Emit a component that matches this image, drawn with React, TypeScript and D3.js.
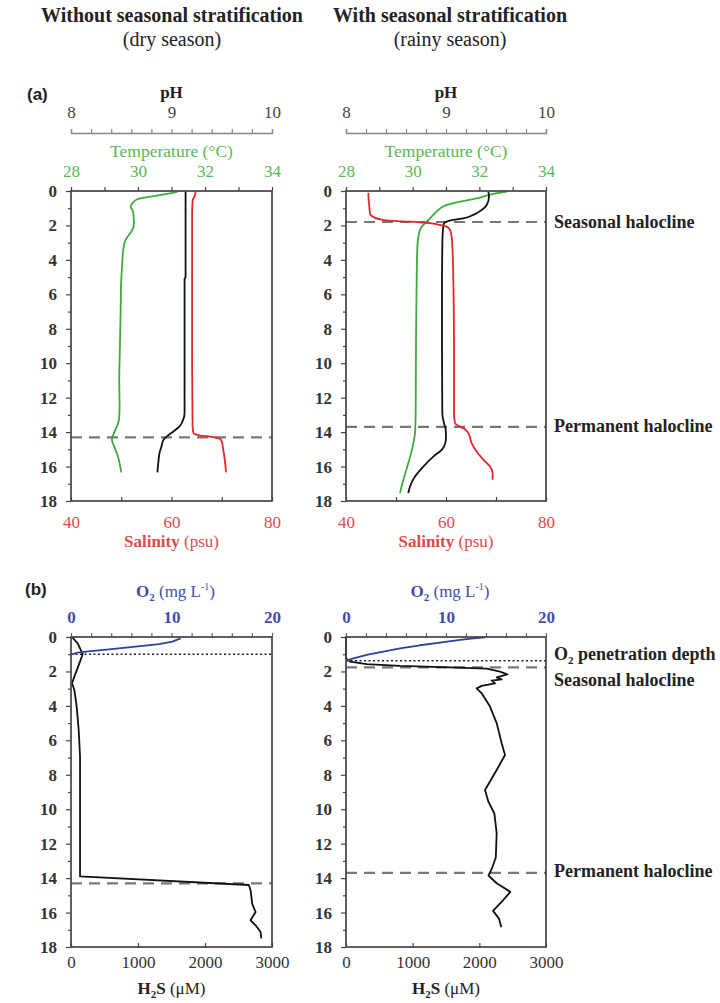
import React, { useEffect, useRef } from 'react';
import * as d3 from 'd3';

// profiles as [depth (m), value]
const dryTemp = [[0.05, 31.17], [0.17, 30.87], [0.33, 30.38], [0.48, 29.98], [0.72, 29.83], [0.91, 29.78], [1.1, 29.83], [1.3, 29.86], [1.88, 29.88], [2.26, 29.83], [2.55, 29.73], [2.84, 29.63], [3.42, 29.56], [4.2, 29.53], [5.16, 29.5], [7.1, 29.48], [9.03, 29.46], [10.97, 29.44], [12.5, 29.45], [13.3, 29.43], [13.8, 29.34], [14.26, 29.24], [14.45, 29.22], [14.84, 29.29], [15.4, 29.4], [16.0, 29.47], [16.34, 29.5]];
const drySal = [[0.05, 64.8], [0.3, 64.6], [0.55, 64.2], [1.5, 64.1], [5, 64.1], [10, 64.1], [13.7, 64.2], [14.06, 64.4], [14.2, 65.7], [14.26, 67.7], [14.33, 69.0], [14.4, 69.7], [14.55, 70.0], [14.84, 70.2], [15.4, 70.5], [16.0, 70.75], [16.34, 70.85]];
const dryPH = [[0.02, 9.14], [5.0, 9.14], [5.1, 9.13], [12.9, 9.13], [13.3, 9.115], [13.67, 9.08], [13.96, 9.02], [14.22, 8.96], [14.45, 8.92], [14.84, 8.9], [15.23, 8.88], [15.7, 8.87], [16.34, 8.86]];

const wetTemp = [[0.04, 32.82], [0.17, 32.42], [0.43, 31.92], [0.62, 31.42], [0.81, 31.02], [1.1, 30.77], [1.49, 30.57], [1.78, 30.42], [2.07, 30.27], [2.46, 30.19], [3.23, 30.14], [5.16, 30.12], [9.03, 30.1], [12.9, 30.09], [14.06, 30.07], [14.84, 30.0], [15.8, 29.87], [16.77, 29.72], [17.54, 29.62]];
const wetSal = [[0.1, 44.47], [0.52, 44.53], [0.91, 44.67], [1.3, 44.8], [1.45, 45.13], [1.64, 46.8], [1.74, 49.47], [1.78, 52.8], [1.84, 55.47], [1.88, 57.13], [1.97, 58.8], [2.07, 60.13], [2.26, 60.8], [2.65, 61.13], [3.23, 61.27], [5.16, 61.47], [9.03, 61.6], [12.9, 61.6], [13.48, 61.8], [13.68, 62.8], [13.83, 63.8], [14.06, 64.47], [14.64, 65.13], [15.13, 66.13], [15.6, 67.47], [16.0, 68.8], [16.38, 69.33], [16.77, 69.33]];
const wetPH = [[0.04, 9.423], [0.33, 9.43], [0.81, 9.407], [1.1, 9.357], [1.39, 9.273], [1.59, 9.173], [1.68, 9.073], [1.78, 9.007], [1.88, 8.98], [2.07, 8.973], [2.46, 8.967], [3.23, 8.963], [5.16, 8.96], [9.03, 8.96], [12.9, 8.963], [13.48, 8.98], [13.87, 8.997], [14.26, 9.0], [14.64, 8.993], [15.03, 8.957], [15.42, 8.873], [16.0, 8.773], [16.58, 8.69], [17.16, 8.64], [17.54, 8.623]];

const dryO2 = [[0.08, 10.9], [0.27, 10.08], [0.41, 8.76], [0.52, 7.1], [0.62, 5.45], [0.72, 3.8], [0.79, 2.48], [0.85, 1.49], [0.91, 0.65], [0.99, 0.16]];
const dryH2S = [[0, 15], [0.37, 100], [0.99, 175], [1.53, 125], [2.3, 50], [2.69, 15], [3.08, 50], [4.04, 85], [5.4, 115], [6.94, 135], [9.5, 135], [13.9, 135], [14.4, 2655], [14.7, 2680], [15.5, 2705], [15.97, 2755], [16.45, 2680], [16.74, 2755], [17.13, 2830], [17.5, 2840]];
const wetO2 = [[0.02, 13.9], [0.08, 12.73], [0.17, 11.4], [0.33, 9.4], [0.48, 7.4], [0.66, 5.4], [0.85, 3.73], [1.04, 2.07], [1.24, 0.73], [1.37, 0.07]];
const wetH2S = [[0, 0], [1.24, 0], [1.43, 60], [1.57, 310], [1.68, 810], [1.76, 1560], [1.84, 2110], [2.01, 2310], [2.17, 2420], [2.34, 2260], [2.46, 2335], [2.53, 2185], [2.69, 2235], [2.84, 2035], [2.98, 1960], [3.27, 2035], [4.04, 2160], [5.0, 2260], [6.17, 2335], [6.85, 2385], [7.72, 2260], [8.88, 2085], [9.55, 2135], [10.25, 2226], [11.4, 2260], [12.8, 2247], [13.4, 2192], [13.85, 2137], [14.3, 2260], [14.8, 2466], [15.4, 2329], [15.9, 2206], [16.35, 2295], [16.85, 2329]];

const depthTicks = d3.range(0, 19);
const phTicks = d3.range(0, 11).map(i => 8 + i * 0.2);
const tempTicks = d3.range(28, 35);
const salTicks = [40, 50, 60, 70, 80];
const o2Ticks = d3.range(0, 21, 2);
const h2sTicks = [0, 1000, 2000, 3000];

// haloclines etc. (depth, m)
const dryHalocline = 14.3;
const wetSeasonal = 1.8;
const wetPermanent = 13.7;
const dryO2Depth = 1.0;
const wetO2Depth = 1.38;
const wetSeasonalB = 1.76;

const GREEN = '#3faa3f';
const GREEN_TXT = '#56b856';
const RED = '#e0282c';
const RED_TXT = '#e04a4a';
const BLUE = '#2e3f9e';
const BLUE_TXT = '#3f4fa6';
const SERIF = '"Liberation Serif", "Times New Roman", serif';
const SANS = '"Liberation Sans", Arial, sans-serif';

const isInt = (d: number) => Math.abs(d - Math.round(d)) < 1e-6;

const App = () => {
  const ref = useRef<SVGSVGElement>(null);

  useEffect(() => {
    const svg = d3.select(ref.current);
    svg.selectAll('*').remove();

    const text = (x, y, s, size, opts: any = {}) =>
      svg.append('text')
        .attr('x', x).attr('y', y)
        .attr('font-family', opts.family || SERIF)
        .attr('font-size', size)
        .attr('font-weight', opts.weight || 'normal')
        .attr('fill', opts.fill || '#222')
        .attr('text-anchor', opts.anchor || 'start')
        .text(s);

    const styleAxis = (g, color, size, weight, lineColor) => {
      g.attr('font-family', SERIF);
      g.selectAll('.tick line').attr('stroke', lineColor).attr('stroke-width', 1.2);
      g.select('.domain').attr('stroke', lineColor).attr('stroke-width', 1.6);
      g.selectAll('.tick text')
        .attr('font-family', SERIF).attr('font-size', size)
        .attr('font-weight', weight).attr('fill', color);
    };

    const depthAxis = (y, x0) => {
      const g = svg.append('g').attr('transform', `translate(${x0},0)`)
        .call(d3.axisLeft(y).tickValues(depthTicks)
          .tickFormat(d => (+d % 2 === 0 ? String(d) : ''))
          .tickSize(4).tickPadding(10));
      styleAxis(g, '#333', 17, 'bold', '#444');
      g.select('.domain').remove();
      g.selectAll('.tick line').attr('x2', d => (+d % 2 === 0 ? -5 : -3));
    };

    const box = (x0, x1, y) => {
      svg.append('rect')
        .attr('x', x0).attr('y', y(0))
        .attr('width', x1 - x0).attr('height', y(18) - y(0))
        .attr('fill', 'none').attr('stroke', '#444').attr('stroke-width', 1.7);
    };

    const hline = (x0, x1, yy, dotted = false) => {
      svg.append('line')
        .attr('x1', x0).attr('x2', x1).attr('y1', yy).attr('y2', yy)
        .attr('stroke', dotted ? '#222' : '#777')
        .attr('stroke-width', dotted ? 1.5 : 2.2)
        .attr('stroke-dasharray', dotted ? '2,2.5' : '11,7');
    };

    const curve = (series, xs, y, color, smooth = true) => {
      const line = d3.line<number[]>()
        .x(d => xs(d[1])).y(d => y(d[0]))
        .curve(smooth ? d3.curveMonotoneY : d3.curveLinear);
      svg.append('path').attr('d', line(series))
        .attr('fill', 'none').attr('stroke', color)
        .attr('stroke-width', 1.8).attr('stroke-linejoin', 'round');
    };

    const panelA = (x0, x1, temp, sal, ph, halos) => {
      const cx = (x0 + x1) / 2;
      const y = d3.scaleLinear().domain([0, 18]).range([191, 501]);
      const xT = d3.scaleLinear().domain([28, 34]).range([x0, x1]);
      const xS = d3.scaleLinear().domain([40, 80]).range([x0, x1]);
      const xP = d3.scaleLinear().domain([8, 10]).range([x0, x1]);

      // pH axis
      const gp = svg.append('g').attr('transform', 'translate(0,133)')
        .call(d3.axisTop(xP).tickValues(phTicks)
          .tickFormat(d => (isInt(+d) ? String(Math.round(+d)) : ''))
          .tickSizeInner(4).tickSizeOuter(4).tickPadding(11));
      styleAxis(gp, '#444', 17, 'normal', '#888');
      gp.select('.domain').attr('stroke-width', 1.4);
      text(cx, 98, 'pH', 17, { weight: 'bold', anchor: 'middle' });

      // temperature axis on top of box
      const gt = svg.append('g').attr('transform', 'translate(0,191)')
        .call(d3.axisTop(xT).tickValues(tempTicks)
          .tickFormat(d => (+d % 2 === 0 ? String(d) : ''))
          .tickSizeInner(4).tickSizeOuter(0).tickPadding(10));
      styleAxis(gt, GREEN_TXT, 17, 'normal', '#444');
      gt.select('.domain').remove();
      text(cx, 157, 'Temperature (°C)', 17.5, { fill: GREEN_TXT, anchor: 'middle' });

      // salinity axis at bottom
      const gs = svg.append('g').attr('transform', 'translate(0,501)')
        .call(d3.axisBottom(xS).tickValues(salTicks)
          .tickFormat(d => (+d % 20 === 0 ? String(d) : ''))
          .tickSizeInner(-4).tickSizeOuter(0).tickPadding(15));
      styleAxis(gs, RED_TXT, 17, 'normal', '#444');
      gs.select('.domain').remove();
      const st = text(cx, 547, '', 17, { fill: RED_TXT, anchor: 'middle' });
      st.append('tspan').attr('font-weight', 'bold').text('Salinity');
      st.append('tspan').text(' (psu)');

      depthAxis(y, x0);
      halos.forEach(h => hline(x0, x1, y(h)));
      curve(temp, xT, y, GREEN);
      curve(ph, xP, y, '#111');
      curve(sal, xS, y, RED);
      box(x0, x1, y);
      return y;
    };

    const panelB = (x0, x1, o2, h2s, dotted, halos) => {
      const cx = (x0 + x1) / 2;
      const y = d3.scaleLinear().domain([0, 18]).range([637, 947]);
      const xO = d3.scaleLinear().domain([0, 20]).range([x0, x1]);
      const xH = d3.scaleLinear().domain([0, 3000]).range([x0, x1]);

      const go = svg.append('g').attr('transform', 'translate(0,637)')
        .call(d3.axisTop(xO).tickValues(o2Ticks)
          .tickFormat(d => (+d % 10 === 0 ? String(d) : ''))
          .tickSizeInner(4).tickSizeOuter(0).tickPadding(10));
      styleAxis(go, BLUE_TXT, 17, 'bold', '#666');
      go.select('.domain').remove();
      const ot = text(cx + 4, 597, '', 17, { fill: BLUE_TXT, anchor: 'middle' });
      ot.append('tspan').attr('font-weight', 'bold').text('O');
      ot.append('tspan').attr('font-weight', 'bold').attr('font-size', 11).attr('dy', 4).text('2');
      ot.append('tspan').attr('dy', -4).text(' (mg L');
      ot.append('tspan').attr('font-size', 10).attr('dy', -7).text('-1');
      ot.append('tspan').attr('dy', 7).text(')');

      const gh = svg.append('g').attr('transform', 'translate(0,947)')
        .call(d3.axisBottom(xH).tickValues(h2sTicks)
          .tickFormat(d3.format('d'))
          .tickSizeInner(-4).tickSizeOuter(0).tickPadding(9));
      styleAxis(gh, '#333', 17, 'normal', '#444');
      gh.select('.domain').remove();
      const ht = text(cx, 994, '', 17, { anchor: 'middle' });
      ht.append('tspan').attr('font-weight', 'bold').text('H');
      ht.append('tspan').attr('font-weight', 'bold').attr('font-size', 11).attr('dy', 4).text('2');
      ht.append('tspan').attr('font-weight', 'bold').attr('dy', -4).text('S');
      ht.append('tspan').text(' (μM)');

      depthAxis(y, x0);
      hline(x0, x1, y(dotted), true);
      halos.forEach(h => hline(x0, x1, y(h)));
      curve(h2s, xH, y, '#111', false);
      curve(o2, xO, y, BLUE, false);
      box(x0, x1, y);
      return y;
    };

    // titles
    text(172, 22, 'Without seasonal stratification', 20, { weight: 'bold', anchor: 'middle' });
    text(172, 46, '(dry season)', 20, { anchor: 'middle' });
    text(450, 22, 'With seasonal stratification', 20, { weight: 'bold', anchor: 'middle' });
    text(450, 46, '(rainy season)', 20, { anchor: 'middle' });

    text(27, 100, '(a)', 17, { weight: 'bold', family: SANS });
    text(25, 595, '(b)', 17, { weight: 'bold', family: SANS });

    panelA(71, 272, dryTemp, drySal, dryPH, [dryHalocline]);
    panelA(346, 546, wetTemp, wetSal, wetPH, [wetSeasonal, wetPermanent]);
    panelB(71, 272, dryO2, dryH2S, dryO2Depth, [dryHalocline]);
    panelB(346, 546, wetO2, wetH2S, wetO2Depth, [wetSeasonalB, wetPermanent]);

    // annotations
    text(554, 228, 'Seasonal halocline', 18, { weight: 'bold' });
    text(554, 432, 'Permanent halocline', 18, { weight: 'bold' });
    const pen = text(554, 660, '', 18, { weight: 'bold' });
    pen.append('tspan').text('O');
    pen.append('tspan').attr('font-size', 11).attr('dy', 4).text('2');
    pen.append('tspan').attr('dy', -4).text(' penetration depth');
    text(554, 686, 'Seasonal halocline', 18, { weight: 'bold' });
    text(554, 877, 'Permanent halocline', 18, { weight: 'bold' });
  }, []);

  return (
    <svg ref={ref} width={720} height={1003}
      style={{ position: 'absolute', left: 0, top: 0, background: '#fff' }} />
  );
};

export default App;
